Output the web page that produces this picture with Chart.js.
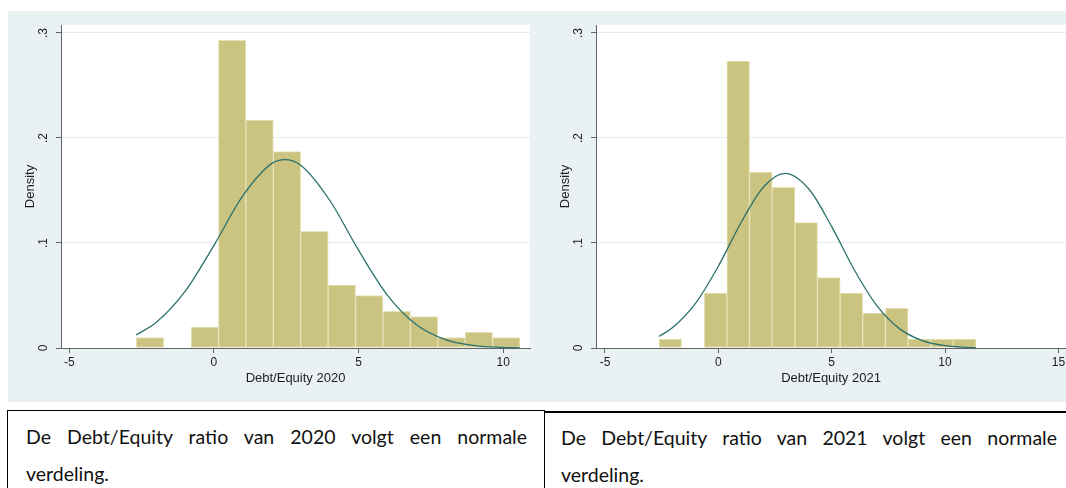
<!DOCTYPE html>
<html>
<head>
<meta charset="utf-8">
<script src="https://cdn.jsdelivr.net/npm/chart.js@4/dist/chart.umd.min.js"></script>
<style>
  html, body { margin: 0; padding: 0; background: #ffffff; width: 1066px; height: 488px; overflow: hidden; position: relative; }
  .panel { position: absolute; background: #eaf1f3; }
  #p1 { left: 8px; top: 11px; width: 524px; height: 391px; }
  #p2 { left: 532px; top: 11px; width: 534px; height: 391px; }
  canvas { display: block; }
  .cell { position: absolute; box-sizing: border-box; font-family: Lato, "Open Sans", sans-serif; font-size: 19.5px; color: #111; }
  #c1 { left: 7px; top: 410px; width: 538px; height: 78px; border-left: 1px solid #000; border-top: 1px solid #000; border-right: 1px solid #000; }
  #c2 { left: 544px; top: 411px; width: 522px; height: 77px; border-top: 2px solid #000; }
  .line { position: absolute; line-height: 22px; white-space: nowrap; }
  .just { text-align: justify; text-align-last: justify; white-space: normal; }
</style>
</head>
<body>
<div class="panel" id="p1"><canvas id="chart2020" width="524" height="391"></canvas></div>
<div class="panel" id="p2"><canvas id="chart2021" width="534" height="391"></canvas></div>

<div class="cell" id="c1">
  <div class="line just" style="left:18px; top:15px; width:501px;">De Debt/Equity ratio van 2020 volgt een normale</div>
  <div class="line" style="left:18px; top:52px;">verdeling.</div>
</div>
<div class="cell" id="c2">
  <div class="line just" style="left:17px; top:14px; width:496px;">De Debt/Equity ratio van 2021 volgt een normale</div>
  <div class="line" style="left:17px; top:51px;">verdeling.</div>
</div>

<script>
// Histogram of Debt/Equity 2020: bin left edges and densities
const edges2020 = [-2.686, -1.739, -0.791, 0.156, 1.104, 2.051, 2.999, 3.946, 4.894, 5.841, 6.789, 7.736, 8.684, 9.631, 10.579];
const density2020 = [0.010, null, 0.020, 0.293, 0.217, 0.187, 0.111, 0.060, 0.050, 0.035, 0.030, 0.010, 0.015, 0.010];
// Fitted normal density 2020 (x, density)
const curveX2020 = [-2.686, -2, -1, 0, 1, 2, 2.45, 3, 4, 5, 6, 7, 8, 9, 10, 10.579];
const curveY2020 = [0.0125, 0.0242, 0.0539, 0.0978, 0.1450, 0.1758, 0.1794, 0.1740, 0.1407, 0.0930, 0.0502, 0.0221, 0.0080, 0.0023, 0.0006, 0.0002];

// Histogram of Debt/Equity 2021
const edges2021 = [-2.620, -1.621, -0.622, 0.377, 1.376, 2.375, 3.374, 4.373, 5.372, 6.371, 7.370, 8.369, 9.368, 10.367, 11.366];
const density2021 = [0.0086, null, 0.0524, 0.2733, 0.1676, 0.1530, 0.1194, 0.0670, 0.0524, 0.0333, 0.0378, 0.0086, 0.0086, 0.0086];
// Fitted normal density 2021
const curveX2021 = [-2.62, -2, -1, 0, 1, 2, 2.955, 4, 5, 6, 7, 8, 9, 10, 11, 11.366];
const curveY2021 = [0.0110, 0.0197, 0.0427, 0.0779, 0.1193, 0.1536, 0.1663, 0.1512, 0.1156, 0.0743, 0.0401, 0.0182, 0.0070, 0.0022, 0.0006, 0.0003];

// Axis ticks
const xTicks2020 = [-5, 0, 5, 10];
const xTicks2021 = [-5, 0, 5, 10, 15];
const yTicks = [0, 0.1, 0.2, 0.3];
const yTickLabels = ['0', '.1', '.2', '.3'];

const BAR_FILL = 'rgb(203,195,128)';
const BAR_EDGE = 'rgb(231,227,184)';
const CURVE = '#2c726d';
const AXIS = '#606468';
const GRID = '#e3eded';
const TEXT = '#1c1c1c';
const FONT = '"Liberation Sans", Arial, Helvetica, sans-serif';

// Draws tick labels and axis titles Stata-style (rotated y labels)
const axisText = {
  id: 'axisText',
  afterDraw(chart, args, opts) {
    const ctx = chart.ctx;
    const xs = chart.scales.x, ys = chart.scales.y;
    ctx.save();
    ctx.fillStyle = TEXT;
    ctx.textAlign = 'center';
    ctx.textBaseline = 'middle';
    ctx.font = '12px ' + FONT;
    opts.xTicks.forEach(v => ctx.fillText(String(v), xs.getPixelForValue(v), xs.top + 15));
    ctx.font = '13px ' + FONT;
    ctx.fillText(opts.xTitle, (xs.left + xs.right) / 2, xs.top + 30);
    ctx.font = '12px ' + FONT;
    opts.yTicks.forEach((v, i) => {
      ctx.save();
      ctx.translate(ys.right - 17, ys.getPixelForValue(v));
      ctx.rotate(-Math.PI / 2);
      ctx.fillText(opts.yLabels[i], 0, 0);
      ctx.restore();
    });
    ctx.font = '13px ' + FONT;
    ctx.save();
    ctx.translate(ys.right - 31, (ys.top + ys.bottom) / 2);
    ctx.rotate(-Math.PI / 2);
    ctx.fillText('Density', 0, 0);
    ctx.restore();
    ctx.restore();
  }
};

// White plot region behind the bars
const plotFill = {
  id: 'plotFill',
  beforeDraw(chart) {
    const a = chart.chartArea, ctx = chart.ctx;
    ctx.save();
    ctx.fillStyle = '#ffffff';
    ctx.fillRect(a.left, a.top, a.right - a.left, a.bottom - a.top);
    ctx.restore();
  }
};

function makeHist(canvasId, edges, dens, cx, cy, xTicks, xMin, xMax, axisWidth, padRight, title) {
  const bars = dens.map((d, i) => ({ x: (edges[i] + edges[i + 1]) / 2, y: d }));
  const curve = cx.map((x, i) => ({ x: x, y: cy[i] }));
  return new Chart(document.getElementById(canvasId), {
    type: 'bar',
    data: {
      datasets: [
        {
          type: 'line', order: 0, data: curve,
          borderColor: CURVE, borderWidth: 1.3, pointRadius: 0,
          cubicInterpolationMode: 'monotone', fill: false
        },
        {
          type: 'bar', order: 1, data: bars,
          backgroundColor: BAR_FILL, borderColor: BAR_EDGE, borderWidth: 1,
          borderSkipped: false, barPercentage: 1, categoryPercentage: 1
        }
      ]
    },
    options: {
      responsive: false,
      animation: false,
      devicePixelRatio: 1,
      layout: { padding: { top: 14, right: padRight, left: 0, bottom: 0 } },
      plugins: {
        legend: { display: false },
        tooltip: { enabled: false },
        axisText: { xTicks: xTicks, yTicks: yTicks, yLabels: yTickLabels, xTitle: title }
      },
      scales: {
        x: {
          type: 'linear', min: xMin, max: xMax, offset: false,
          afterBuildTicks: s => { s.ticks = xTicks.map(v => ({ value: v })); },
          afterFit: s => { s.height = 54; },
          ticks: { display: false },
          grid: { offset: false, drawOnChartArea: false, drawTicks: true, tickLength: 5, tickColor: AXIS, tickWidth: 1 },
          border: { display: true, color: AXIS, width: 1 }
        },
        y: {
          type: 'linear', min: 0, max: 0.3076,
          afterBuildTicks: s => { s.ticks = yTicks.map(v => ({ value: v })); },
          afterFit: s => { s.width = axisWidth; },
          ticks: { display: false },
          grid: { color: GRID, lineWidth: 1, drawTicks: true, tickLength: 5, tickColor: AXIS, tickWidth: 1 },
          border: { display: true, color: AXIS, width: 1 }
        }
      }
    },
    plugins: [plotFill, axisText]
  });
}

makeHist('chart2020', edges2020, density2020, curveX2020, curveY2020, xTicks2020, -5.287, 10.924, 53, 2, 'Debt/Equity 2020');
makeHist('chart2021', edges2021, density2021, curveX2021, curveY2021, xTicks2021, -5.397, 15.336, 64, 0, 'Debt/Equity 2021');
</script>
</body>
</html>
